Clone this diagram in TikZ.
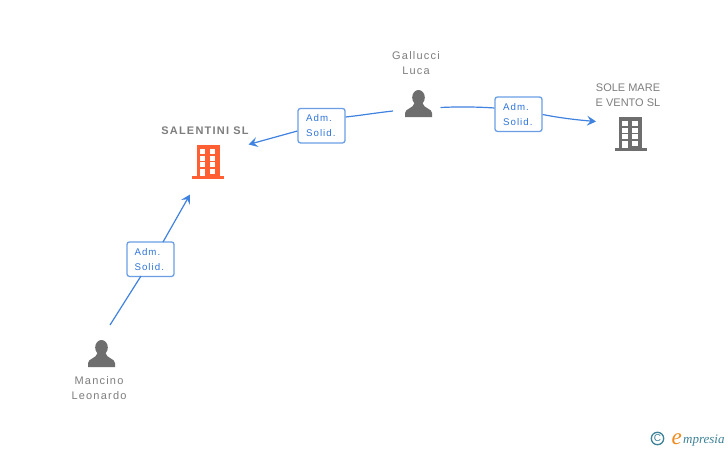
\documentclass[tikz,border=0pt]{standalone}
\usepackage{fontspec}
\setmainfont{Liberation Sans}
\newfontfamily\spaced[LetterSpace=11]{Liberation Sans}
\newfontfamily\logofont{Liberation Serif}
\usetikzlibrary{arrows.meta,calc}
\definecolor{linkblue}{HTML}{3F82E0}
\definecolor{boxblue}{HTML}{6A9FE6}
\definecolor{txtblue}{HTML}{2F74D8}
\definecolor{txtgray}{HTML}{7E7E7E}
\definecolor{icongray}{HTML}{6E6E6E}
\definecolor{iconred}{HTML}{FF5F33}
\definecolor{logoteal}{HTML}{3E8298}
\definecolor{logoorange}{HTML}{F08A1D}
\tikzset{
  px/.style={x=1pt,y=-1pt},
  relbox/.style={draw=boxblue,line width=1.3pt,rounded corners=2.5pt,fill=white,
    minimum width=47pt,minimum height=34.5pt,inner sep=0pt,text width=47pt,align=left,
    text=txtblue,font=\spaced\fontsize{9.7}{15}\selectfont},
  link/.style={draw=linkblue,line width=1.2pt},
  arrowlink/.style={link,-{Stealth[length=9pt,width=10pt,inset=3.5pt]}},
  who/.style={text=txtgray,font=\spaced\fontsize{11}{15}\selectfont,align=center,inner sep=0pt},
  firm/.style={text=txtgray,font=\fontsize{11}{15}\selectfont,align=center,inner sep=0pt},
  boldfirm/.style={text=txtgray,font=\spaced\bfseries\fontsize{11}{13}\selectfont,align=center,inner sep=0pt},
}
% person icon: centre x, top y
\newcommand{\personicon}[2]{%
  \fill[icongray] (#1,#2+7.5) ellipse (6.3 and 7.5);
  \fill[icongray] (#1-13.5,#2+27) -- (#1-13.5,#2+23) .. controls (#1-13.5,#2+18.5) and (#1-5,#2+18.5) .. (#1-4,#2+13)
    -- (#1+4,#2+13) .. controls (#1+5,#2+18.5) and (#1+13.5,#2+18.5) .. (#1+13.5,#2+23) -- (#1+13.5,#2+27) -- cycle;
}
% building icon: centre x, top y, colour
\newcommand{\buildingicon}[3]{%
  \fill[#3] (#1-11.5,#2) rectangle (#1+11.5,#2+31);
  \fill[#3] (#1-16,#2+31) rectangle (#1+16,#2+33.5);
  \fill[white] (#1-8.5,#2+4) rectangle (#1-3,#2+9);
  \fill[white] (#1+1.5,#2+4) rectangle (#1+7,#2+9);
  \fill[white] (#1-8.5,#2+10.5) rectangle (#1-3,#2+15.5);
  \fill[white] (#1+1.5,#2+10.5) rectangle (#1+7,#2+15.5);
  \fill[white] (#1-8.5,#2+17) rectangle (#1-3,#2+22);
  \fill[white] (#1+1.5,#2+17) rectangle (#1+7,#2+22);
  \fill[white] (#1-8.5,#2+24) rectangle (#1-3,#2+31);
  \fill[white] (#1+1.5,#2+24) rectangle (#1+7,#2+29);
}
\begin{document}
\begin{tikzpicture}[px]
\useasboundingbox (0,0) rectangle (728,450);
\fill[white] (0,0) rectangle (728,450);

% icons
\personicon{418.5}{90}
\personicon{101.5}{340}
\buildingicon{208}{145}{iconred}
\buildingicon{630.5}{117}{icongray}

% entity labels
\node[who] (gallucci) at (416,63) {Gallucci\\Luca};
\node[who] (mancino) at (99,388.5) {Mancino\\Leonardo};
\node[firm] (sole) at (628,95.5) {SOLE MARE\\E VENTO SL};
\node[boldfirm] (salentini) at (205,131) {SALENTINI SL};

% relation boxes
\node[relbox] (r1) at (321.5,125.7) {\hspace*{8pt}Adm.\\\hspace*{8pt}Solid.};
\node[relbox] (r2) at (518.5,114.2) {\hspace*{8pt}Adm.\\\hspace*{8pt}Solid.};
\node[relbox] (r3) at (150.5,259.2) {\hspace*{7.5pt}Adm.\\\hspace*{7.5pt}Solid.};

% connector ends
\coordinate (gl) at (393,111);
\coordinate (gr) at (440.5,107.5);
\coordinate (ml) at (110,325);
\coordinate (salr) at (248.5,144.5);
\coordinate (salb) at (190,194.5);
\coordinate (solel) at (596,121.5);

% connectors
\draw[link] (gl) .. controls (375,113) and (360,115.5) .. (r1.east |- 0,117);
\draw[arrowlink] (r1.west |- 0,131) -- (salr);
\draw[link] (gr) .. controls (460,106.5) and (480,107) .. (r2.west |- 0,108);
\draw[arrowlink] (r2.east |- 0,114.5) .. controls (560,118) and (578,120) .. (solel);
\draw[link] (ml) -- (141,276);
\draw[arrowlink] (163,242) -- (salb);

% logo
\node[inner sep=0pt,text=logoteal,font=\fontsize{10}{10}\selectfont] (copy) at (657.5,438.5) {C};
\draw[logoteal,line width=1.3pt] (copy.center) circle (6.2);
\node[anchor=base west,inner sep=0pt,text=logoorange,font=\logofont\itshape\fontsize{23}{23}\selectfont] (elogo) at (671.5,444) {e};
\node[anchor=base west,inner sep=0pt,text=logoteal,font=\logofont\itshape\fontsize{13}{13}\selectfont] (mlogo) at (683,443) {mpresia};
\end{tikzpicture}
\end{document}
